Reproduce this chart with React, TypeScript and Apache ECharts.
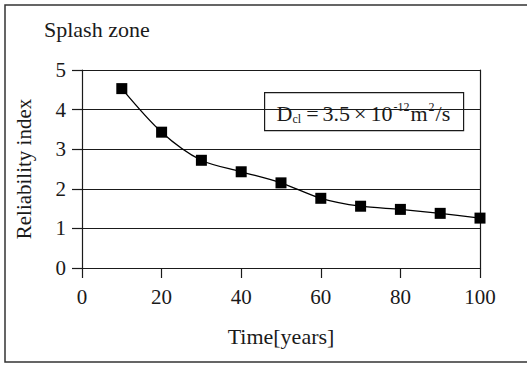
import React, { useEffect, useRef } from "react";
import * as echarts from "echarts";

const years = [10, 20, 30, 40, 50, 60, 70, 80, 90, 100];
const reliability = [4.53, 3.43, 2.72, 2.43, 2.15, 1.76, 1.56, 1.48, 1.38, 1.26];
const chartTitle = "Splash zone";
const xName = "Time[years]";
const yName = "Reliability index";

const FONT = "Liberation Serif";
const INK = "#1a1a1a";

export default function App() {
  const ref = useRef<HTMLDivElement>(null);
  useEffect(() => {
    if (!ref.current) return;
    const chart = echarts.init(ref.current, null, { renderer: "svg" });
    chart.setOption({
      animation: false,
      backgroundColor: "#ffffff",
      textStyle: { fontFamily: FONT, color: INK },
      grid: { left: 82, right: 47, top: 70, bottom: 98 },
      title: {
        text: chartTitle,
        left: 39,
        top: 13,
        textStyle: { fontFamily: FONT, fontSize: 22, fontWeight: "normal", color: INK },
      },
      xAxis: {
        type: "value",
        min: 0,
        max: 100,
        interval: 20,
        name: xName,
        nameLocation: "middle",
        nameGap: 57,
        nameTextStyle: { fontFamily: FONT, fontSize: 22, color: INK },
        axisLine: { show: true, onZero: false, lineStyle: { color: INK, width: 1.2 } },
        axisTick: { show: true, length: 10, lineStyle: { color: INK, width: 1.2 } },
        axisLabel: { margin: 18, fontFamily: FONT, fontSize: 21, color: INK },
        splitLine: { show: false },
      },
      yAxis: [
        {
          type: "value",
          min: 0,
          max: 5,
          interval: 1,
          name: yName,
          nameLocation: "middle",
          nameGap: 48,
          nameTextStyle: { fontFamily: FONT, fontSize: 21, color: INK },
          axisLine: { show: true, lineStyle: { color: INK, width: 1.2 } },
          axisTick: { show: true, length: 10, lineStyle: { color: INK, width: 1.2 } },
          axisLabel: { margin: 16, fontFamily: FONT, fontSize: 21, color: INK },
          splitLine: { show: true, lineStyle: { color: INK, width: 1.2 } },
        },
        {
          type: "value",
          min: 0,
          max: 5,
          interval: 1,
          position: "right",
          axisLine: { show: true, lineStyle: { color: INK, width: 1.2 } },
          axisTick: { show: false },
          axisLabel: { show: false },
          splitLine: { show: false },
        },
      ],
      graphic: [
        {
          type: "rect",
          shape: { x: 5, y: 5, width: 540, height: 357 },
          style: { fill: "none", stroke: "#333", lineWidth: 1.5 },
          silent: true,
          z: -1,
        },
        {
          type: "group",
          left: 264,
          top: 92,
          children: [
            {
              type: "rect",
              shape: { x: 0, y: 0, width: 199, height: 38 },
              style: { fill: "#ffffff", stroke: INK, lineWidth: 1.2 },
            },
            {
              type: "text",
              x: 12,
              y: 20,
              style: {
                text: "{n|D}{sub|cl}{op|=}{n|3.5}{op|×}{n|10}{sup|-12}{n|m}{sup|2}{n|/s}",
                verticalAlign: "middle",
                fill: INK,
                fontFamily: FONT,
                rich: {
                  n: { fontSize: 22, fontFamily: FONT, fill: INK, lineHeight: 24, verticalAlign: "bottom" },
                  op: { fontSize: 22, fontFamily: FONT, fill: INK, lineHeight: 24, verticalAlign: "bottom", padding: [0, 4, 0, 4] },
                  sub: { fontSize: 12, fontFamily: FONT, fill: INK, lineHeight: 14, verticalAlign: "bottom", padding: [0, 1, 0, 0] },
                  sup: { fontSize: 12, fontFamily: FONT, fill: INK, lineHeight: 12, verticalAlign: "top", padding: [0, 1, 0, 1] },
                },
              },
            },
          ],
        },
      ],
      series: [
        {
          type: "line",
          data: years.map((y, i) => [y, reliability[i]]),
          smooth: 0.3,
          symbol: "rect",
          symbolSize: 11,
          itemStyle: { color: "#000000" },
          lineStyle: { color: "#000000", width: 1.3 },
        },
      ],
    });
    return () => chart.dispose();
  }, []);
  return (
    <div
      ref={ref}
      style={{ width: 527, height: 366, position: "absolute", left: 0, top: 0 }}
    />
  );
}
